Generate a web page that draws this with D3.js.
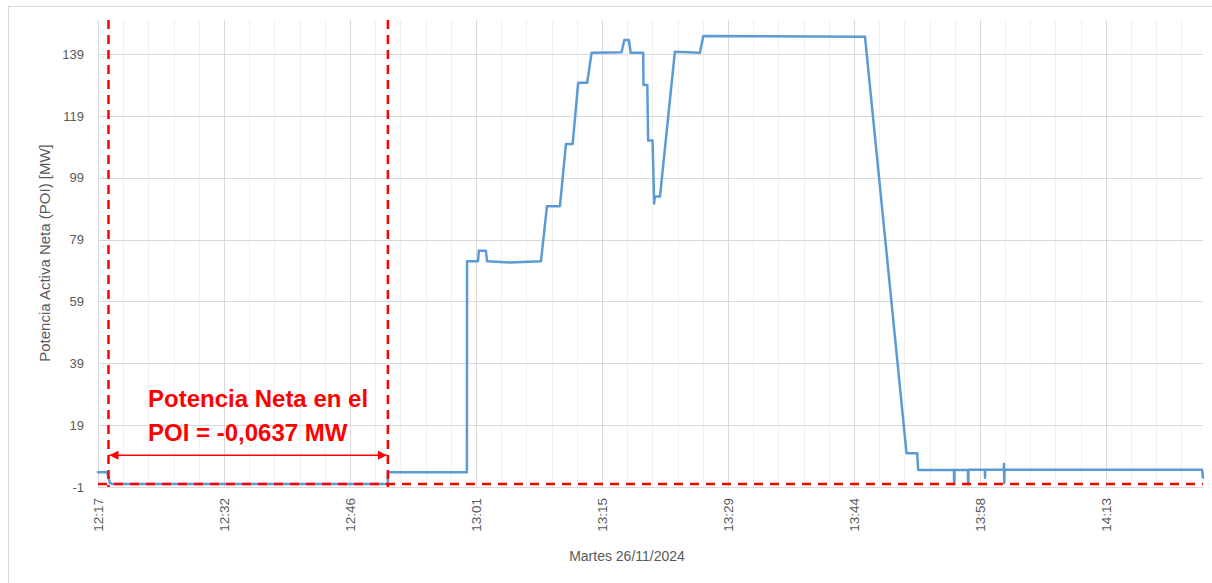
<!DOCTYPE html>
<html>
<head>
<meta charset="utf-8">
<script src="https://cdn.jsdelivr.net/npm/d3@7"></script>
<style>
  html, body { margin: 0; padding: 0; background: #fff; }
  svg { display: block; }
  text { font-family: "Liberation Sans", Arial, sans-serif; }
</style>
</head>
<body>
<svg id="chart" width="1212" height="583"></svg>
<script>
// ---- data ----
const times = [
  "12:17:48","12:18:50","12:19:10","12:19:31","12:50:56","12:50:57",
  "12:59:58","12:59:59","13:01:14","13:01:20","13:02:08","13:02:16",
  "13:04:53","13:08:26","13:09:07","13:10:36","13:11:17","13:12:03",
  "13:12:41","13:13:43","13:14:13","13:17:39","13:17:57","13:18:29",
  "13:18:41","13:20:07","13:20:09","13:20:35","13:20:41","13:21:11",
  "13:21:22","13:21:27","13:22:02","13:23:44","13:26:36","13:26:59",
  "13:45:28","13:50:13","13:51:26","13:51:33","13:55:38","13:55:39",
  "13:55:41","13:55:42","13:57:14","13:57:15","13:57:17","13:57:18",
  "13:59:10","13:59:11","13:59:13","14:01:20","14:01:21","14:01:23",
  "14:01:25","14:24:00","14:24:06"
];
const power = [
  3.8, 3.8, 0.3, -0.06, -0.06, 3.8,
  3.8, 72.0, 72.0, 75.4, 75.4, 72.0,
  71.6, 72.0, 89.8, 89.8, 109.9, 109.9,
  129.7, 129.7, 139.4, 139.6, 143.5, 143.5,
  139.4, 139.4, 129.0, 129.0, 111.0, 111.0,
  90.7, 92.9, 92.9, 139.7, 139.4, 144.8,
  144.6, 9.9, 9.9, 4.5, 4.5, -0.1,
  -0.1, 4.5, 4.5, -0.1, -0.1, 4.6,
  4.6, 2.0, 4.6, 4.6, 6.4, 0.3,
  4.6, 4.6, 2.0
];
const xDomain = ["12:17:48", "14:24:06"];
const yDomain = [-1, 150];
const xTickTimes = ["12:17:48","12:32:12","12:46:36","13:01:00","13:15:24","13:29:48","13:44:12","13:58:36","14:13:00"];
const xTickLabels = ["12:17","12:32","12:46","13:01","13:15","13:29","13:44","13:58","14:13"];
const yTicks = [-1, 19, 39, 59, 79, 99, 119, 139];
const yTickLabels = ["-1","19","39","59","79","99","119","139"];
const minorStepSec = 172.8; // 0.002 day minor unit
const avgValue = -0.0637;
const windowStart = "12:19:00";
const windowEnd = "12:50:56";
const arrowValue = 9.3;
const annotationLines = ["Potencia Neta en el", "POI = -0,0637 MW"];
const xTitle = "Martes 26/11/2024";
const yTitle = "Potencia Activa Neta (POI) [MW]";

// ---- layout ----
const parse = d3.timeParse("%H:%M:%S");
const svg = d3.select("#chart");
const L = 98, R = 1203, T = 20, B = 487;
const x = d3.scaleTime().domain(xDomain.map(parse)).range([L, R]);
const y = d3.scaleLinear().domain(yDomain).range([B, T]);

// outer frame
svg.append("rect").attr("x", 8.5).attr("y", 6.5).attr("width", 1230).attr("height", 600)
  .attr("fill", "none").attr("stroke", "#D9D9D9").attr("stroke-width", 1);

// minor vertical grid
const t0 = parse(xDomain[0]).getTime(), t1 = parse(xDomain[1]).getTime();
const minor = d3.range(t0, t1 + 1, minorStepSec * 1000).map(t => new Date(t));
svg.append("g").selectAll("line").data(minor).join("line")
  .attr("x1", d => Math.round(x(d)) + 0.5).attr("x2", d => Math.round(x(d)) + 0.5)
  .attr("y1", T).attr("y2", B).attr("stroke", "#F0F0F0").attr("stroke-width", 1);

// major vertical grid
const xt = xTickTimes.map(parse);
svg.append("g").selectAll("line").data(xt).join("line")
  .attr("x1", d => Math.round(x(d)) + 0.5).attr("x2", d => Math.round(x(d)) + 0.5)
  .attr("y1", T).attr("y2", B).attr("stroke", "#D9D9D9").attr("stroke-width", 1);

// horizontal grid
svg.append("g").selectAll("line").data(yTicks).join("line")
  .attr("x1", L).attr("x2", R)
  .attr("y1", d => Math.round(y(d)) + 0.5).attr("y2", d => Math.round(y(d)) + 0.5)
  .attr("stroke", "#D9D9D9").attr("stroke-width", 1);

// y axis
const yAxis = d3.axisLeft(y).tickValues(yTicks).tickSize(0).tickPadding(14)
  .tickFormat((d, i) => yTickLabels[i]);
const gy = svg.append("g").attr("transform", `translate(${L},0)`).call(yAxis);
gy.select(".domain").remove();
gy.selectAll("text").attr("fill", "#595959").attr("font-size", 13)
  .attr("font-family", "'Liberation Sans', Arial, sans-serif");

// x axis
const xAxis = d3.axisBottom(x).tickValues(xt).tickSize(0)
  .tickFormat((d, i) => xTickLabels[i]);
const gx = svg.append("g").attr("transform", `translate(0,${B})`).call(xAxis);
gx.select(".domain").attr("stroke", "#D9D9D9");
gx.selectAll("text").attr("fill", "#595959").attr("font-size", 13.5)
  .attr("font-family", "'Liberation Sans', Arial, sans-serif")
  .attr("transform", "rotate(-90)")
  .attr("text-anchor", "end").attr("dy", "0.35em").attr("x", -11).attr("y", 0);

// axis titles
svg.append("text").attr("x", 627).attr("y", 561).attr("text-anchor", "middle")
  .attr("fill", "#595959").attr("font-size", 14).text(xTitle);
svg.append("text").attr("transform", "translate(50,253) rotate(-90)")
  .attr("text-anchor", "middle").attr("fill", "#595959").attr("font-size", 15).text(yTitle);

// data line
const data = times.map((t, i) => ({ t: parse(t), v: power[i] }));
const line = d3.line().x(d => x(d.t)).y(d => y(d.v));
svg.append("path").datum(data).attr("d", line)
  .attr("fill", "none").attr("stroke", "#5B9BD5").attr("stroke-width", 2.5)
  .attr("stroke-linejoin", "round").attr("stroke-linecap", "round");

// red dashed annotation lines
const red = "#FF0000";
svg.append("line").attr("x1", L).attr("x2", R).attr("y1", y(avgValue)).attr("y2", y(avgValue))
  .attr("stroke", red).attr("stroke-width", 2.5).attr("stroke-dasharray", "9,7");
[windowStart, windowEnd].forEach(t => {
  const xx = x(parse(t));
  svg.append("line").attr("x1", xx).attr("x2", xx).attr("y1", T).attr("y2", B)
    .attr("stroke", red).attr("stroke-width", 2.5).attr("stroke-dasharray", "9,6");
});

// double-headed arrow
const defs = svg.append("defs");
defs.append("marker").attr("id", "arrEnd").attr("viewBox", "0 0 10 10").attr("refX", 10).attr("refY", 5)
  .attr("markerWidth", 8).attr("markerHeight", 6).attr("markerUnits", "strokeWidth").attr("orient", "auto")
  .append("path").attr("d", "M0,0 L10,5 L0,10 Z").attr("fill", red);
defs.append("marker").attr("id", "arrStart").attr("viewBox", "0 0 10 10").attr("refX", 0).attr("refY", 5)
  .attr("markerWidth", 8).attr("markerHeight", 6).attr("markerUnits", "strokeWidth").attr("orient", "auto")
  .append("path").attr("d", "M10,0 L0,5 L10,10 Z").attr("fill", red);
svg.append("line")
  .attr("x1", x(parse(windowStart)) + 1).attr("x2", x(parse(windowEnd)) - 1)
  .attr("y1", y(arrowValue)).attr("y2", y(arrowValue))
  .attr("stroke", red).attr("stroke-width", 1.5)
  .attr("marker-start", "url(#arrStart)").attr("marker-end", "url(#arrEnd)");

// annotation text
const ann = svg.append("text").attr("fill", red).attr("font-weight", "bold").attr("font-size", 24);
annotationLines.forEach((s, i) => {
  ann.append("tspan").attr("x", 148).attr("y", 407 + i * 34).text(s);
});
</script>
</body>
</html>
